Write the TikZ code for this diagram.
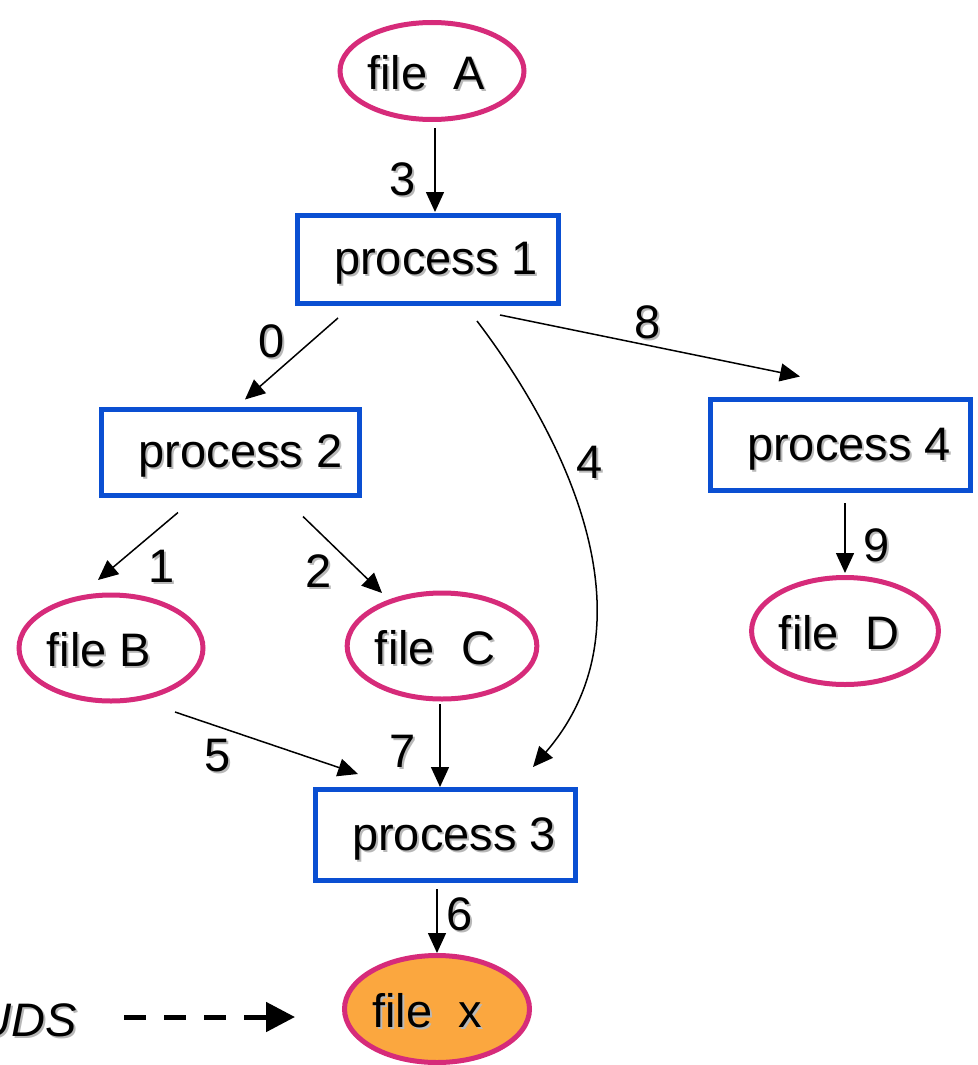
\documentclass[tikz,border=0pt]{standalone}
\usepackage{fontspec}
\setmainfont{Liberation Sans}
\usetikzlibrary{shapes.geometric,arrows.meta,calc}
\definecolor{filerim}{HTML}{D62B7A}
\definecolor{procrim}{HTML}{0A4FD2}
\definecolor{outfill}{HTML}{FBA73F}
% text with a soft grey drop shadow
\newcommand\shd[1]{\rlap{\kern2pt\raisebox{-2pt}{\textcolor{black!28}{#1}}}#1}
\begin{document}
\begin{tikzpicture}[x=1pt,y=-1pt,
  every node/.style={font=\fontsize{47}{53}\selectfont, inner sep=0pt},
  proc/.style={draw=procrim, line width=5pt, rectangle, fill=white, text height=33pt, text depth=3pt},
  file/.style={draw=filerim, line width=5pt, ellipse, text height=36pt, text depth=0pt},
  arr/.style={line width=1.5pt, -{Triangle[length=20pt,width=18pt]}},
  dasharr/.style={line width=5pt, dash pattern=on 22pt off 18pt, -{Triangle[length=29pt,width=29pt]}}]
\useasboundingbox (0,0) rectangle (977,1065);
\clip (0,0) rectangle (977,1065);

% files
\node[file, minimum width=184pt, minimum height=97pt]  (A) at (432,71)   {\shd{file~~A}\kern12pt};
\node[file, minimum width=184pt, minimum height=106pt] (B) at (111,648)  {\shd{file B}\kern24pt};
\node[file, minimum width=181pt, minimum height=106pt] (C) at (442,646)  {\shd{file~~C}\kern14pt};
\node[file, minimum width=185pt, minimum height=107pt] (D) at (845,631)  {\shd{file~~D}\kern12pt};
\node[file, fill=outfill, minimum width=185pt, minimum height=107pt] (X) at (437,1009) {\shd{file~~x}\kern20pt};

% processes
\node[proc, minimum width=261pt, minimum height=88pt] (P1) at (428,259.5) {\kern16pt\shd{process 1}};
\node[proc, minimum width=258pt, minimum height=86pt] (P2) at (230.5,452.5) {\kern20pt\shd{process 2}};
\node[proc, minimum width=260pt, minimum height=91pt] (P4) at (840.5,445) {\kern17pt\shd{process 4}};
\node[proc, minimum width=260pt, minimum height=91pt] (P3) at (445.5,835) {\kern17pt\shd{process 3}};

% legend
\node[anchor=east] (U) at (77,1021) {\itshape\shd{UDS}};

% connectors
\draw[arr] ($(A.south)+(3,6)$) -- ($(P1.north)+(7,-1)$);
\draw[arr] ($(P1.south)+(-90,12)$) -- ($(P2.north)+(14.5,-7.5)$);
\draw[arr] ($(P1.south)+(49,15)$) .. controls (560,430) and (660,620) .. ($(P3.north)+(87.5,-20)$);
\draw[arr] ($(P1.south)+(72,9)$) -- ($(P4.north)+(-40.5,-20.5)$);
\draw[arr] ($(P2.south)+(-52.5,14.5)$) -- ($(B.north)+(-13,-12.5)$);
\draw[arr] ($(P2.south)+(72.5,18.5)$) -- ($(C.north)+(-60,2.5)$);
\draw[arr] ($(P4.south)+(4.5,10)$) -- ($(D.north)+(0,-2)$);
\draw[arr] ($(B.south)+(64,8.5)$) -- ($(P3.north)+(-87.5,-13)$);
\draw[arr] ($(C.south)+(-2,2.5)$) -- ($(P3.north)+(-5.5,0)$);
\draw[arr] ($(P3.south)+(-8.5,6)$) -- (X.north);
\draw[dasharr] ($(U.east)+(47,-4)$) -- ($(X.west)+(-47,8)$);

% connector numbers
\node (n3) at (403,180) {\shd{3}};
\node (n0) at (272,342) {\shd{0}};
\node (n4) at (590,463) {\shd{4}};
\node (n8) at (648,323) {\shd{8}};
\node (n1) at (162,567) {\shd{1}};
\node (n2) at (319,572) {\shd{2}};
\node (n9) at (877,546) {\shd{9}};
\node (n5) at (218,757) {\shd{5}};
\node (n7) at (403,752) {\shd{7}};
\node (n6) at (460,915) {\shd{6}};
\end{tikzpicture}
\end{document}
